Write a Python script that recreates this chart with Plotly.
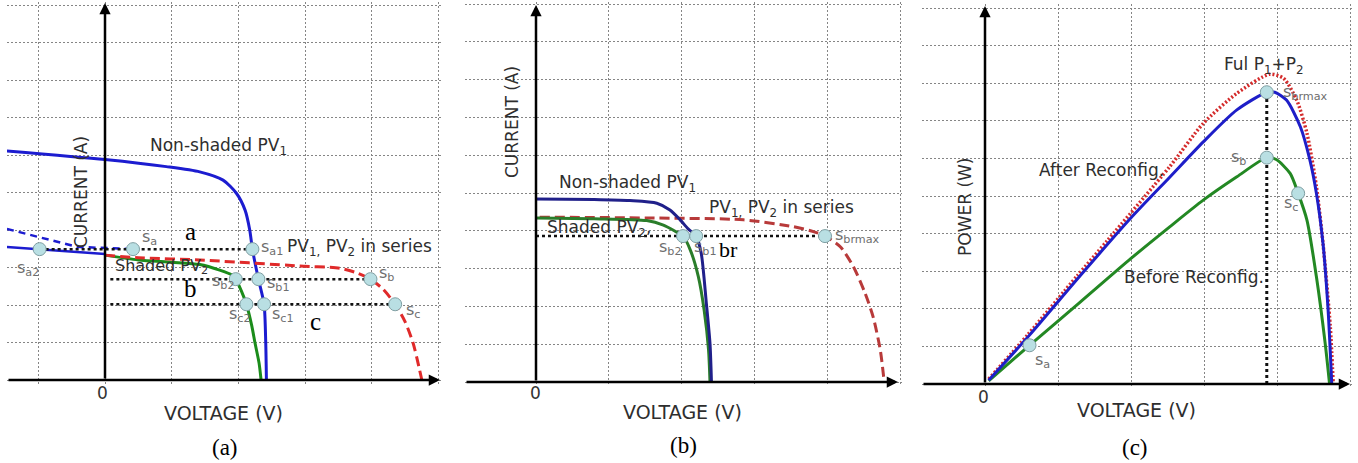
import plotly.graph_objects as go

W, H = 1358, 463

# ---------------- DATA ----------------
# Panel (a): I-V curves, partial shading
a_pv1_v = [-1.47, 0, 0.92, 1.42, 1.77, 1.97, 2.10, 2.17, 2.21, 2.30, 2.385, 2.41, 2.42]
a_pv1_i = [6.11, 5.88, 5.69, 5.55, 5.33, 4.98, 4.53, 4.00, 3.49, 2.69, 2.02, 0.98, 0.0]
a_pv2_v = [0, 0.5, 1.0, 1.42, 1.72, 1.90, 1.96, 2.05, 2.12, 2.20, 2.25, 2.31, 2.34]
a_pv2_i = [3.33, 3.20, 3.14, 3.08, 2.93, 2.80, 2.69, 2.35, 2.02, 1.45, 0.98, 0.45, 0.0]
a_ser_v = [0, 0.5, 1.42, 2.92, 3.52, 3.77, 3.98, 4.17, 4.35, 4.50, 4.62, 4.75]
a_ser_i = [3.33, 3.26, 3.20, 3.04, 2.98, 2.86, 2.69, 2.42, 2.02, 1.55, 0.98, 0.0]
a_neg_v = [-1.47, 0]
a_neg_i = [3.55, 3.36]
a_negd_v = [-1.47, -0.42, 0.42]
a_negd_i = [4.03, 3.55, 3.49]
a_pt_names = ["a2", "a", "a1", "b2", "b1", "b", "c2", "c1", "c"]
a_pt_v = [-0.98, 0.42, 2.21, 1.96, 2.30, 3.98, 2.12, 2.385, 4.35]
a_pt_i = [3.49, 3.49, 3.49, 2.69, 2.69, 2.69, 2.02, 2.02, 2.02]

# Panel (b): after reconfiguration
b_pv1_v = [0.0, 0.8, 1.29, 1.66, 1.84, 1.98, 2.09, 2.20, 2.27, 2.34, 2.39, 2.41]
b_pv1_i = [4.84, 4.83, 4.80, 4.73, 4.55, 4.29, 4.05, 3.86, 3.40, 2.08, 1.02, 0.0]
b_pv2_v = [0.0, 0.8, 1.52, 1.75, 1.90, 2.02, 2.12, 2.23, 2.31, 2.37, 2.39]
b_pv2_i = [4.34, 4.32, 4.27, 4.15, 4.00, 3.86, 3.49, 2.79, 1.90, 0.85, 0.0]
b_ser_v = [0.05, 1.5, 2.85, 3.53, 3.81, 3.97, 4.18, 4.36, 4.52, 4.63, 4.73, 4.78]
b_ser_i = [4.36, 4.34, 4.29, 4.11, 3.98, 3.86, 3.58, 3.05, 2.35, 1.73, 0.84, 0.05]
b_pt_names = ["b2", "b1", "brmax"]
b_pt_v = [2.02, 2.20, 3.97]
b_pt_i = [3.86, 3.86, 3.86]

# Panel (c): P-V curves
c_full_v = [0.05, 0.59, 1.26, 1.67, 2.53, 2.99, 3.45, 3.90, 4.09, 4.27, 4.41, 4.54, 4.63, 4.73, 4.77]
c_full_p = [0.13, 1.32, 2.87, 3.80, 5.78, 6.93, 7.73, 8.24, 8.13, 7.55, 6.67, 5.25, 3.74, 1.52, 0.0]
c_after_v = [0.05, 0.61, 1.30, 2.00, 2.53, 2.99, 3.45, 3.86, 3.97, 4.13, 4.32, 4.45, 4.54, 4.63, 4.70, 4.75]
c_after_p = [0.10, 1.30, 2.87, 4.42, 5.50, 6.44, 7.29, 7.76, 7.76, 7.55, 6.84, 5.96, 5.07, 3.74, 1.97, 0.0]
c_before_v = [0.05, 0.61, 1.30, 2.00, 2.53, 2.99, 3.45, 3.86, 3.99, 4.18, 4.29, 4.41, 4.54, 4.66, 4.72]
c_before_p = [0.08, 1.03, 2.17, 3.34, 4.18, 4.89, 5.51, 6.02, 5.97, 5.60, 5.07, 4.36, 2.85, 1.08, 0.0]
c_pt_names = ["a", "b", "brmax", "c"]
c_pt_v = [0.61, 3.86, 3.86, 4.29]
c_pt_p = [1.03, 6.02, 7.76, 5.07]

# ---------------- LAYOUT GEOMETRY (pixels) ----------------
# origin x, origin y, px per unit x, px per unit y, box L, R, T, B
panels = [
    dict(ox=105, oy=380, ux=66.7, uy=37.5, L=7, R=442, T=2, B=384, tipx=440, tipy=3),
    dict(ox=536, oy=382, ux=72.8, uy=37.8, L=465, R=902, T=2, B=386, tipx=898, tipy=5),
    dict(ox=985, oy=384, ux=73.0, uy=37.6, L=922, R=1352, T=4, B=388, tipx=1350, tipy=6),
]

SANS = "DejaVu Sans"
SERIF = "Liberation Serif"
PTFILL = "#b9dfe3"
PTLINE = "#7f9fa3"
LBL = "#2e2e2e"
PLBL = "#6e6e6e"

fig = go.Figure()
layout = dict(width=W, height=H, margin=dict(l=0, r=0, t=0, b=0),
              paper_bgcolor="white", plot_bgcolor="white", showlegend=False,
              font=dict(family=SANS, color=LBL))
annotations = []

for k, p in enumerate(panels):
    n = "" if k == 0 else str(k + 1)
    xr = [(p["L"] - p["ox"]) / p["ux"], (p["R"] - p["ox"]) / p["ux"]]
    yr = [(p["oy"] - p["B"]) / p["uy"], (p["oy"] - p["T"]) / p["uy"]]
    layout["xaxis" + n] = dict(domain=[p["L"] / W, p["R"] / W], range=xr, tick0=0, dtick=1,
                               showgrid=True, gridcolor="#858585", griddash="2px,2px", gridwidth=1,
                               showticklabels=False, ticks="", zeroline=False, showline=False,
                               anchor="y" + n, fixedrange=True)
    layout["yaxis" + n] = dict(domain=[1 - p["B"] / H, 1 - p["T"] / H], range=yr, tick0=0, dtick=1,
                               showgrid=True, gridcolor="#858585", griddash="2px,2px", gridwidth=1,
                               showticklabels=False, ticks="", zeroline=False, showline=False,
                               anchor="x" + n, fixedrange=True)
    xa, ya = "x" + n, "y" + n
    # axis arrows
    annotations.append(dict(xref=xa, yref=ya, axref=xa, ayref=ya,
                            x=(p["tipx"] - p["ox"]) / p["ux"], y=0, ax=xr[0], ay=0,
                            text="", showarrow=True, arrowhead=2, arrowsize=0.9,
                            arrowwidth=2.5, arrowcolor="black"))
    annotations.append(dict(xref=xa, yref=ya, axref=xa, ayref=ya,
                            x=0, y=(p["oy"] - p["tipy"]) / p["uy"], ax=0, ay=0,
                            text="", showarrow=True, arrowhead=2, arrowsize=0.9,
                            arrowwidth=2.5, arrowcolor="black"))


def line(x, y, ax, color, width=3, dash="solid", shape="spline"):
    n = "" if ax == 1 else str(ax)
    fig.add_trace(go.Scatter(x=x, y=y, mode="lines", xaxis="x" + n, yaxis="y" + n,
                             line=dict(color=color, width=width, dash=dash, shape=shape,
                                       smoothing=0.7), hoverinfo="skip"))


def pts(x, y, ax):
    n = "" if ax == 1 else str(ax)
    fig.add_trace(go.Scatter(x=x, y=y, mode="markers", xaxis="x" + n, yaxis="y" + n,
                             marker=dict(size=13, color=PTFILL, line=dict(color=PTLINE, width=1)),
                             hoverinfo="skip"))


def ptxt(ax, x, y, text, dx, dy, xanchor="center"):
    n = "" if ax == 1 else str(ax)
    annotations.append(dict(xref="x" + n, yref="y" + n, x=x, y=y, text=text, showarrow=False,
                            xshift=dx, yshift=dy, xanchor=xanchor, yanchor="middle",
                            font=dict(size=16, color=PLBL, family=SANS)))


def ptext(px, py, text, size=17, color=LBL, family=SANS, xanchor="center", angle=0):
    annotations.append(dict(xref="paper", yref="paper", x=px / W, y=1 - py / H, text=text,
                            showarrow=False, xanchor=xanchor, yanchor="middle", textangle=angle,
                            font=dict(size=size, color=color, family=family)))


# ---------- Panel (a) ----------
BLUE_A, GREEN_A, RED_A = "#1c1cd0", "#1b8c1b", "#e02a2a"
line(a_neg_v, a_neg_i, 1, BLUE_A, 2.5, shape="linear")
line(a_negd_v, a_negd_i, 1, BLUE_A, 2.5, dash="7px,5px", shape="linear")
line(a_pv1_v, a_pv1_i, 1, BLUE_A, 3)
line(a_pv2_v, a_pv2_i, 1, GREEN_A, 3)
line(a_ser_v, a_ser_i, 1, RED_A, 3, dash="10px,5px")
# dotted operating-point lines
line([a_pt_v[0], a_pt_v[2]], [a_pt_i[0], a_pt_i[2]], 1, "#111", 2.5, "dot", "linear")
line([0.08, a_pt_v[5]], [a_pt_i[5], a_pt_i[5]], 1, "#111", 2.5, "dot", "linear")
line([0.08, a_pt_v[8]], [a_pt_i[8], a_pt_i[8]], 1, "#111", 2.5, "dot", "linear")
pts(a_pt_v, a_pt_i, 1)
a_off = {"a2": (-12, -19), "a": (16, 12), "a1": (20, 2), "b2": (-12, -2), "b1": (20, -4),
         "b": (16, 6), "c2": (-6, -10), "c1": (19, -10), "c": (18, -6)}
for nm, v, i in zip(a_pt_names, a_pt_v, a_pt_i):
    ptxt(1, v, i, "s<sub>%s</sub>" % nm, *a_off[nm])

ptext(148, 146, "Non-shaded PV<sub>1</sub>", xanchor="left")
ptext(285, 247, "PV<sub>1,</sub> PV<sub>2</sub> in series", xanchor="left")
ptext(113, 266, "Shaded PV<sub>2</sub>", size=16, xanchor="left")
ptext(81, 192, "CURRENT (A)", size=17, angle=-90)
ptext(190, 232, "a", 25, "black", SERIF)
ptext(190, 288, "b", 25, "black", SERIF)
ptext(315, 321, "c", 25, "black", SERIF)
ptext(103, 393, "0", 17, "#333")
ptext(223, 413, "VOLTAGE (V)", 19)
ptext(225, 447, "(a)", 23, "black", SERIF)

# ---------- Panel (b) ----------
BLUE_B, GREEN_B, RED_B = "#20208a", "#2a7d2a", "#b83a3a"
line(b_ser_v, b_ser_i, 2, RED_B, 3, dash="10px,5px")
line(b_pv2_v, b_pv2_i, 2, GREEN_B, 3)
line(b_pv1_v, b_pv1_i, 2, BLUE_B, 3)
line([0, b_pt_v[2]], [b_pt_i[2], b_pt_i[2]], 2, "#111", 2.5, "dot", "linear")
pts(b_pt_v, b_pt_i, 2)
ptxt(2, b_pt_v[0], b_pt_i[0], "s<sub>b2</sub>", -13, -11)
ptxt(2, b_pt_v[1], b_pt_i[1], "s<sub>b1</sub>", 9, -11)
ptxt(2, b_pt_v[2], b_pt_i[2], "s<sub>brmax</sub>", 8, 1, xanchor="left")
ptext(557, 183, "Non-shaded PV<sub>1</sub>", xanchor="left")
ptext(707, 208, "PV<sub>1,</sub> PV<sub>2</sub> in series", xanchor="left")
ptext(545, 228, "Shaded PV<sub>2</sub>,", xanchor="left")
ptext(728, 250, "br", 22, "black", SERIF)
ptext(512, 122, "CURRENT (A)", size=17, angle=-90)
ptext(535, 393, "0", 17, "#333")
ptext(682, 412, "VOLTAGE (V)", 19)
ptext(683, 445, "(b)", 23, "black", SERIF)

# ---------- Panel (c) ----------
BLUE_C, GREEN_C, RED_C = "#1e1ec8", "#238823", "#d42b2b"
line([c_pt_v[2], c_pt_v[2]], [0, c_pt_p[2]], 3, "#111", 3, "dot", "linear")
line(c_before_v, c_before_p, 3, GREEN_C, 3)
line(c_full_v, c_full_p, 3, RED_C, 3.5, dash="2px,2px")
line(c_after_v, c_after_p, 3, BLUE_C, 3)
pts(c_pt_v, c_pt_p, 3)
ptxt(3, c_pt_v[0], c_pt_p[0], "s<sub>a</sub>", 13, -15)
ptxt(3, c_pt_v[1], c_pt_p[1], "s<sub>b</sub>", -28, 0)
ptxt(3, c_pt_v[2], c_pt_p[2], "s<sub>brmax</sub>", 14, 0, xanchor="left")
ptxt(3, c_pt_v[3], c_pt_p[3], "s<sub>c</sub>", -7, -10)
ptext(1222, 65, "Ful P<sub>1</sub>+P<sub>2</sub>", xanchor="left")
ptext(1037, 170, "After Reconfig.", xanchor="left")
ptext(1122, 277, "Before Reconfig.", xanchor="left")
ptext(965, 207, "POWER (W)", size=17, angle=-90)
ptext(983, 397, "0", 17, "#333")
ptext(1136, 410, "VOLTAGE (V)", 19)
ptext(1135, 447, "(c)", 23, "black", SERIF)

layout["annotations"] = annotations
fig.update_layout(**layout)
fig.write_html("out.html")
